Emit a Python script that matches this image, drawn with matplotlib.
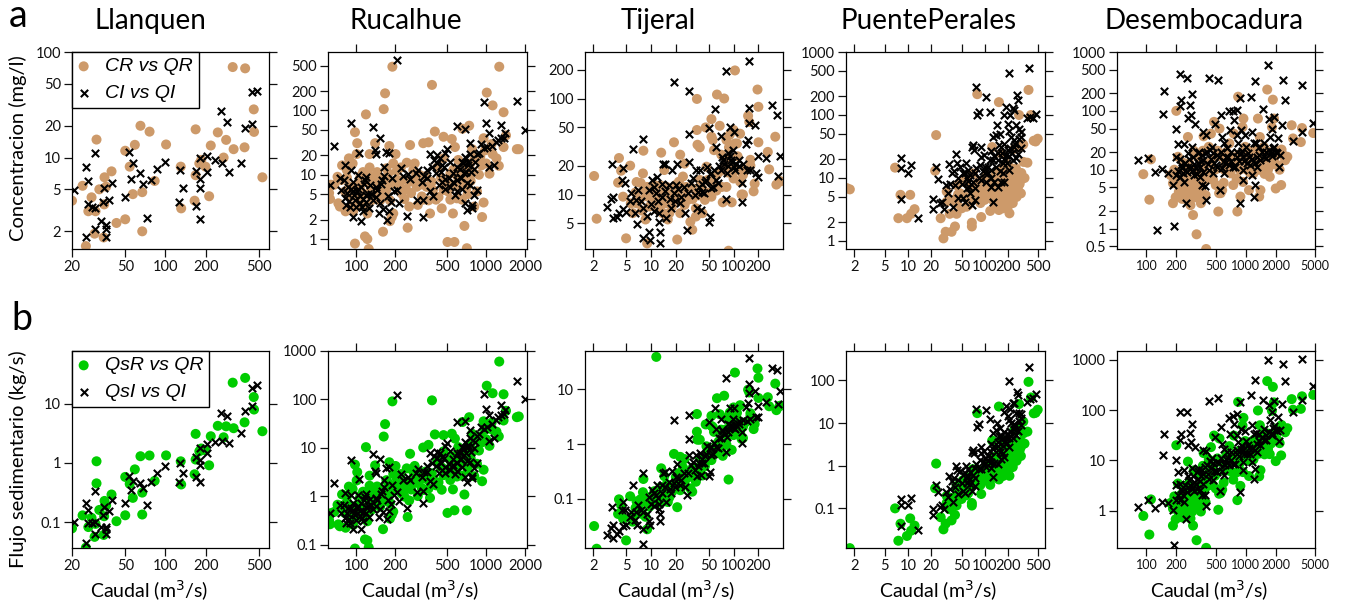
import numpy as np
import matplotlib
matplotlib.use("Agg")
import matplotlib.pyplot as plt
from matplotlib.ticker import FixedLocator, FixedFormatter, NullLocator

# Pares (caudal m3/s, concentracion mg/l) por estacion.
# *_r: muestras R (CR vs QR), *_i: muestras I (CI vs QI)
llanquen_r = [
    (20, 3.9), (24, 5.4), (26.5, 3.1), (28, 4.2), (30, 3.1), (30.5, 14.8), (29.5, 1.9),
    (32, 5.0), (34.5, 1.75), (35, 6.5), (34.8, 3.6), (36, 5.3), (39.5, 7.4), (43, 2.4),
    (50, 11.6), (50, 2.6), (54, 8.2), (57, 4.5), (59, 13.2), (65, 20), (67, 4.7), (67, 2.0),
    (76, 17.6), (83, 6.0), (101, 13.3), (130, 8.2), (131, 3.3), (168, 18.5), (165, 3.9),
    (168, 6.8), (179, 8.8), (185, 9.5), (199, 8.2), (212, 4.3), (218, 13), (246, 17.3),
    (272, 10), (284, 14.7), (318, 72), (323, 12), (390, 12.5), (394, 70), (457, 28.6),
    (459, 17.5), (530, 6.5), (30.5, 35), (25.4, 1.45),
]
llanquen_i = [
    (20.7, 4.9), (25.3, 8.2), (26.5, 6.0), (26.5, 3.6), (25.3, 1.75), (28, 3.4), (29.9, 3.3),
    (29.9, 11.1), (29.9, 2.1), (33, 2.5), (34, 3.8), (34.6, 5.2), (36, 2.3), (36, 2.1),
    (36, 1.75), (38, 4.0), (40, 5.8), (50, 4.2), (53.5, 11.3), (57, 8.8), (55.5, 6.3),
    (64, 7.1), (68, 5.6), (73, 2.7), (78, 6.1), (86, 7.8), (100, 9.0), (126, 3.8),
    (129, 7.7), (135, 5.1), (168, 3.5), (170, 7.4), (181, 9.9), (181, 6.2), (181, 5.1),
    (181, 2.6), (204, 10.3), (204, 7.3), (236, 9.5), (263, 8.8), (258, 27.5), (287, 21.6),
    (297, 7.3), (365, 8.9), (391, 19.2), (445, 20.6), (445, 41.6), (482, 43),
]

rucalhue_r = [
    (190, 480), (167, 185), (163, 105), (119, 87), (98, 46), (102, 31), (383, 250), (1260, 480),
    (1010, 190), (1120, 120), (1360, 94), (1420, 41), (1360, 27), (1720, 25), (1780, 25),
    (1120, 21), (1250, 13.8), (955, 37), (740, 58), (657, 52), (544, 36), (470, 39), (403, 47),
    (360, 32), (328, 31), (260, 29), (282, 15), (245, 15.4), (205, 11.4), (201, 21), (193, 15),
    (177, 10.5), (180, 28), (140, 31), (127, 21), (101, 21), (88, 18), (78, 14), (72, 9.3),
    (64, 7), (63, 4.2), (73, 3.6), (83, 2.7), (95, 2.7), (107, 6.2), (110, 4.6), (122, 2.5),
    (117, 1.1), (122, 1.0), (125, 0.7), (98, 0.85), (135, 8.8), (161, 1.3), (182, 1.9),
    (188, 2.2), (193, 2.5), (249, 1.5), (256, 3.2), (298, 3.4), (292, 6.5), (242, 6.0),
    (228, 8.3), (207, 8.3), (221, 13), (370, 2.5), (411, 4.1), (455, 3.0), (504, 0.9),
    (570, 0.9), (555, 2.5), (680, 1.6), (710, 0.72), (650, 4.1), (810, 3.2), (850, 5.5),
    (930, 2.2), (955, 3.7), (595, 4.3), (710, 6.5), (755, 10), (755, 15), (820, 18), (780, 25),
    (900, 19), (1000, 15), (1060, 10.4), (610, 17), (575, 27), (530, 10.5), (470, 18), (420, 13),
    (382, 7.8), (348, 6.5), (320, 4.6), (306, 10), (275, 11.8), (258, 7.8), (171, 12.6),
    (155, 7), (143, 6.5), (153, 4.0), (131, 4.0), (102, 4.6), (89, 6.5), (82, 5.5), (77, 8.3),
    (85, 11.8), (94, 15), (113, 11), (127, 13), (106, 8.3), (120, 7.8), (95, 6.5), (68, 7.0),
    (62, 5.2), (75, 3.2), (171, 5.8), (182, 4.0), (224, 5.1), (328, 4.1), (530, 4.1),
    (470, 5.8), (595, 6.5), (670, 8.3),
    (85, 9), (90, 4.5), (92, 3.2), (100, 5.5), (105, 3.5), (108, 9.5), (115, 5.0), (118, 3.3),
    (125, 9.8), (130, 6.0), (138, 4.8), (145, 11), (150, 9), (160, 6.0), (165, 4.8), (175, 8.5),
    (185, 6.8), (200, 7.2), (215, 6.5), (235, 4.2), (265, 5.2), (280, 8.5), (310, 7.0),
    (340, 9.5), (360, 4.0), (390, 5.8), (430, 4.5), (450, 9), (480, 7.5), (510, 5.5), (540, 7),
    (560, 12), (600, 9.5), (620, 11), (640, 7.5), (680, 11), (700, 13), (720, 5), (760, 8),
    (790, 11), (880, 10), (920, 14), (980, 24), (1100, 30), (1200, 18),
]
rucalhue_i = [
    (205, 610), (91, 63), (134, 55), (152, 38), (68, 28), (105, 22), (140, 24), (142, 21),
    (170, 23), (180, 22), (163, 13), (190, 9.0), (221, 12.8), (249, 10.2), (287, 10.5),
    (322, 7.8), (348, 9.0), (370, 21), (400, 17), (382, 13), (411, 10.5), (460, 14), (485, 22),
    (500, 25), (595, 57), (690, 52), (960, 134), (990, 64), (1060, 45), (1290, 60), (1720, 142),
    (2000, 50), (1360, 37), (1230, 35), (1400, 44), (1010, 27), (955, 26), (1060, 13),
    (1150, 14), (850, 21), (745, 31), (755, 21), (690, 19), (800, 12.5), (730, 14), (670, 10.5),
    (630, 9.3), (710, 7.4), (650, 6.1), (575, 4.9), (595, 5.5), (530, 6.5), (485, 6.1),
    (455, 7.8), (430, 7), (390, 4.6), (370, 5.5), (328, 4.0), (328, 2.2), (292, 4.1), (245, 2.3),
    (213, 3.7), (208, 5.8), (184, 3.8), (180, 2.7), (173, 2.0), (161, 2.9), (149, 2.5),
    (152, 3.6), (142, 4.5), (131, 5.1), (127, 6.9), (117, 8.3), (110, 6.5), (107, 4.6),
    (111, 3.2), (113, 2.7), (110, 1.9), (95, 2.2), (89, 3.2), (84, 3.4), (82, 4.3), (77, 5.8),
    (80, 8.3), (75, 8.8), (92, 11.8), (82, 14), (63, 7), (94, 5.5), (102, 5.5), (98, 4.1),
    (120, 3.8), (124, 5.1), (142, 6.5), (157, 8.3), (95, 7.8), (87, 6.5), (104, 10), (120, 9.3),
    (755, 6.9), (800, 4.9), (850, 5.8), (780, 3.4), (780, 3.0), (690, 3.6), (710, 2.8),
    (555, 7.8), (595, 13), (650, 16), (630, 12.5), (530, 16), (470, 13), (416, 20), (440, 18),
    (85, 5.2), (88, 3.9), (92, 6.1), (96, 4.8), (100, 3.2), (103, 6.0), (108, 3.6), (112, 4.2),
    (115, 7.2), (120, 4.9), (125, 3.0), (135, 4.0), (145, 5.8), (155, 7.2), (165, 9.5),
    (175, 4.7), (195, 5.5), (230, 9.5), (260, 8.5), (300, 12), (330, 9.5), (350, 12), (420, 15),
    (450, 11), (480, 8.5), (520, 9), (560, 10.5), (600, 8.2), (640, 9), (660, 15), (700, 11),
    (720, 16), (760, 11), (820, 16), (880, 22), (920, 30), (1100, 28), (1200, 32), (1300, 37),
]

tijeral_r = [
    (2.05, 15.6), (2.2, 5.6), (4.1, 24), (4.35, 17.7), (4.0, 13.3), (4.6, 9.5), (5.0, 3.5),
    (5.6, 20), (6.7, 13.5), (7.5, 13.2), (5.7, 8.1), (6.0, 6.4), (7.3, 8.8), (8.1, 28.6),
    (8.4, 10.7), (8.6, 5.5), (9, 3.1), (9.6, 7.5), (11, 12.6), (11.6, 8.5), (13.3, 10),
    (13.3, 27.3), (13.9, 6.4), (14.5, 18), (15.3, 8.1), (16, 5.5), (16.5, 10.3), (17.1, 8.8),
    (19, 35), (20, 12.6), (22.6, 26), (22.6, 6.4), (20.8, 3.4), (24.4, 15.4), (26.6, 12),
    (30, 5.2), (31.6, 4.3), (28, 8.8), (35, 7.2), (36, 99), (36, 47), (36.6, 33), (39, 31),
    (42, 6.4), (46, 50), (49, 14.2), (54, 61), (56, 37), (58, 29), (63, 110), (68, 52),
    (77, 100), (74, 8.3), (82, 37), (88, 31), (95, 8.3), (100, 47), (104, 196), (110, 34),
    (120, 13.6), (125, 10), (130, 10), (140, 18), (150, 66), (155, 57), (160, 23), (175, 10.8),
    (195, 124), (200, 82), (200, 35), (160, 20), (270, 18.3), (260, 27.8), (320, 40),
    (330, 12.7), (360, 13.8), (370, 13.7), (62, 16), (71, 26), (82, 23), (90, 42), (104, 34),
    (120, 43), (112, 25), (54, 40), (47, 19.5), (39, 14.2), (32, 11.6), (25.5, 21), (21.8, 13.6),
    (18.5, 9.6), (16.7, 6.4), (12.8, 7.2), (10.8, 10.7), (8.0, 16.6), (9.2, 9.5), (6.7, 8.1),
    (62, 11), (82, 12), (100, 14.7), (54, 9.5), (45, 8.8), (35, 5.9), (25.5, 7.8), (19.4, 8.8),
    (11.6, 3400), (87, 2.6),
    (6.5, 10.5), (7.8, 6.8), (9, 12), (10, 9.5), (12, 7), (13, 12.5), (14.5, 9), (15.5, 12),
    (18, 7.5), (21, 10.5), (24, 9), (27, 11), (32, 9), (38, 9.8), (42, 11.5), (50, 10.5),
    (58, 13), (66, 17), (72, 12), (78, 20), (85, 17), (95, 20), (110, 18), (130, 16), (180, 13),
]
tijeral_i = [
    (3.4, 21), (2.9, 7.5), (3.3, 9.0), (3.5, 9.5), (3.45, 5.7), (3.9, 5.9), (4.1, 6.4),
    (4.6, 18.8), (4.5, 14.2), (4.8, 13.1), (4.6, 7.1), (5.0, 6.6), (5.5, 8.5), (5.7, 10.3),
    (6.0, 30), (6.5, 8.8), (6.4, 6.4), (6.8, 4.9), (7, 11.2), (8, 38), (8, 7.2), (8.1, 3.5),
    (9.5, 4.1), (9.8, 3.4), (9.6, 11.2), (10.4, 14.2), (10.8, 12.1), (11.4, 10.3), (11.8, 15.4),
    (12.2, 8.5), (12.5, 6.4), (12.7, 4.1), (13, 3.1), (12.5, 5.2), (13.7, 13), (14, 21),
    (14.6, 21), (15.3, 5.7), (16.5, 12.6), (17.6, 7.2), (18, 18), (18.8, 148), (20, 12.6),
    (20.8, 21), (19.7, 8.5), (22.2, 8.1), (26, 6.4), (27.5, 4.3), (28.8, 119), (29, 43),
    (28.8, 22), (30.8, 13.3), (33.8, 10), (35, 18), (36.6, 7.2), (40, 6.9), (42, 13), (44, 10.3),
    (48, 19.5), (51, 49), (50, 5.2), (52, 5.9), (54, 16.6), (56, 12), (60, 78), (62, 31),
    (65, 13.2), (71, 41), (73, 24.8), (76, 21), (81, 9.0), (82, 195), (90, 50), (94, 22.9),
    (100, 45), (98, 29), (100, 19.5), (108, 21), (117, 22.9), (127, 8.3), (125, 13.3), (140, 34),
    (150, 37), (156, 245), (156, 80), (156, 56), (160, 18), (180, 53), (187, 16.6), (200, 25.3),
    (200, 15.4), (250, 23.8), (290, 85), (340, 67), (345, 15.7), (370, 25.3), (86, 27), (90, 25),
    (83, 16.6), (71, 18), (62, 14.2), (54, 11.6), (47, 14.2), (42, 10.7), (39, 18), (37, 10.7),
    (8, 1.9),
    (7.5, 8.5), (9, 6), (10, 8), (11, 6.8), (13.5, 9.5), (15, 11), (17, 9), (19, 10.5),
    (21, 11.5), (23, 9.5), (25, 12), (28, 10.5), (32, 15), (38, 12), (45, 13.5), (52, 16.5),
    (58, 18), (66, 20), (75, 23), (85, 20), (95, 22), (105, 18), (115, 20), (130, 21), (145, 18),
]

puente_r = [
    (1.6, 6.9), (1.75, 6.6), (6.8, 14.6), (8, 5.4), (10.7, 5.4), (7.5, 2.3), (9.7, 2.3),
    (11, 2.7), (12.2, 3.2), (23.3, 48), (22.6, 13), (26.7, 2.3), (29, 1.1), (31, 1.4), (37, 1.4),
    (41, 1.7), (32, 6.1), (37, 4.5), (43, 4.0), (43, 7.7), (48, 5.7), (52, 8.7), (56, 5.0),
    (61, 3.7), (68, 1.95), (68, 1.7), (80, 214), (78, 8.0), (82, 5.0), (88, 4.0), (90, 2.4),
    (96, 7.3), (105, 10.5), (113, 5.7), (118, 3.0), (125, 31), (134, 4.5), (140, 3.7),
    (153, 160), (153, 6.9), (164, 5.0), (172, 3.3), (175, 9.3), (181, 5.7), (190, 7.3),
    (200, 4.5), (206, 8.7), (210, 6.1), (220, 11.8), (232, 5.4), (244, 7.3), (244, 29),
    (255, 14.2), (268, 9.3), (280, 100), (288, 31), (296, 5.7), (318, 34), (360, 17.5),
    (372, 250), (400, 100), (435, 39), (490, 42), (460, 38), (296, 9.3), (255, 9.3), (157, 11.8),
    (140, 7.3), (122, 8.7), (105, 6.9), (90, 7.3), (175, 4.5), (200, 3.5), (153, 3.1), (127, 4.5),
    (232, 4.0), (268, 11.8), (210, 15), (190, 17), (164, 24.5), (140, 11.8), (70, 11.8),
    (64, 6.9), (58, 9.3), (40, 4.5), (43, 2.7), (35, 2.7), (32, 4.2), (58, 3.5), (82, 6.4),
    (210, 2.75), (190, 11), (172, 14.2),
    (110, 5), (120, 6.2), (130, 5.3), (145, 5.5), (160, 4.2), (165, 6.2), (170, 7.8), (185, 4.8),
    (195, 6.0), (200, 8.0), (215, 5.2), (225, 7.0), (235, 9), (250, 6), (260, 5), (270, 7),
    (285, 8), (300, 12), (320, 18), (330, 10), (150, 9.5), (130, 10), (115, 8), (100, 4.5),
    (95, 5.8), (85, 9), (75, 6), (65, 4.5), (50, 3.3), (45, 5.5),
]
puente_i = [
    (8, 21), (8, 14.6), (8.1, 4.7), (9.9, 11.8), (11, 16), (13.7, 2.3), (21, 4.6), (21.5, 3.2),
    (23.2, 15.2), (25, 9.5), (26.5, 4.0), (28, 4.2), (29.5, 3.2), (31.3, 7.8), (33, 5.7),
    (34.5, 16.7), (37, 11.8), (39, 3.5), (41, 7.8), (42, 23.7), (44, 17.6), (45, 4.8), (48, 15.2),
    (52, 11.8), (52, 4.8), (55, 4.1), (57, 17.5), (58, 6.9), (64, 5.7), (68, 3.7), (69, 31),
    (70, 34), (72, 28), (74, 4.5), (78, 275), (80, 100), (85, 112), (86, 16), (90, 21.7), (90, 31),
    (97, 23), (105, 190), (116, 110), (118, 19), (122, 27), (128, 45), (130, 4.1), (140, 48),
    (143, 70), (153, 33), (157, 50), (164, 31), (172, 17), (181, 100), (190, 135), (200, 73),
    (206, 470), (210, 55), (215, 100), (222, 45), (232, 128), (240, 31), (244, 121), (252, 20.5),
    (255, 69), (260, 205), (268, 174), (280, 41), (296, 54), (298, 29.5), (360, 89), (372, 560),
    (393, 94), (420, 90), (470, 104), (150, 24.5), (134, 22), (122, 13.4), (111, 15), (100, 11.8),
    (90, 9.3), (105, 8.7), (78, 14.2), (74, 11.8), (70, 8.7), (63, 7.3), (58, 10), (61, 13.4),
    (172, 11.8), (164, 8.7), (190, 23), (200, 27.8), (181, 35), (232, 19), (210, 13.4),
    (181, 8.7), (150, 7.3), (134, 8.7), (122, 7.3),
    (60, 9), (65, 11), (75, 7), (85, 10), (95, 13), (100, 15), (110, 12), (120, 10), (130, 19),
    (140, 15), (150, 19), (160, 13), (170, 25), (180, 20), (195, 17), (205, 22), (215, 30),
    (225, 25), (240, 40), (250, 35), (270, 24), (280, 60), (300, 45), (55, 12), (50, 8), (45, 10),
    (35, 8), (40, 13),
]

desemb_r = [
    (93, 8.4), (107, 3.1), (111, 15), (200, 100), (175, 8.1), (185, 5.9), (197, 3.4), (212, 4.2),
    (238, 4.8), (245, 3.6), (262, 36), (262, 5.9), (270, 4.0), (278, 3.4), (290, 3.3), (295, 1.7),
    (295, 10), (300, 4.5), (310, 5.5), (320, 0.8), (354, 2.7), (360, 4.2), (370, 21), (377, 37),
    (385, 6.7), (395, 3.7), (400, 0.45), (425, 24.5), (447, 41), (480, 65), (492, 10), (500, 5.5),
    (540, 4), (545, 50), (560, 4), (530, 1.95), (580, 4.5), (610, 10), (625, 13), (685, 28),
    (720, 16.6), (760, 41), (810, 7.1), (825, 1.95), (840, 174), (870, 10), (885, 3.5), (930, 53),
    (950, 74), (990, 24.5), (1030, 10), (1080, 4.5), (1120, 16.6), (1210, 21), (1300, 12.8),
    (1330, 74), (1370, 3.5), (1390, 36), (1410, 4.5), (1520, 24.5), (1610, 15.5), (1650, 230),
    (1750, 7.6), (1840, 53), (1880, 155), (1930, 74), (2010, 4.8), (2200, 10), (2280, 5.5),
    (2390, 17.7), (2500, 14.5), (2630, 16.6), (2910, 57), (3000, 34), (3600, 29.5), (3700, 51),
    (4800, 42), (191, 10), (208, 16.6), (225, 9.3), (235, 13.1), (240, 8.1), (270, 13), (300, 21),
    (330, 16.6), (345, 7.6), (400, 8.7), (430, 13), (470, 6.7), (520, 21), (640, 20), (700, 8.7),
    (750, 5.5), (900, 15.5), (940, 6.2), (1160, 12), (1200, 8.7), (1240, 21), (1470, 11.2),
    (1680, 10), (1890, 13), (2050, 21), (212, 7.6), (230, 5.5), (245, 9.3), (278, 2.5), (185, 2.7),
    (205, 6), (215, 3.8), (220, 5.2), (228, 3.2), (235, 6.5), (250, 4.5), (255, 5.5), (260, 3),
    (265, 7), (275, 5), (285, 6.2), (290, 4), (305, 3.8), (315, 7), (325, 4.8), (335, 6),
    (340, 3.2), (350, 9), (380, 12), (420, 7.5), (460, 15), (550, 17), (600, 6), (650, 12),
    (800, 12), (850, 18), (1000, 14), (1050, 20), (1100, 9), (1250, 16), (1350, 10), (1450, 18),
    (1550, 8.5), (1700, 20), (1800, 12), (1950, 16), (2100, 12), (2300, 22),
]
desemb_i = [
    (82, 14.4), (103, 16), (123, 9.0), (145, 10.3), (150, 220), (146, 88), (129, 0.96), (190, 1.1),
    (185, 5.6), (200, 50), (197, 8.1), (216, 430), (225, 150), (216, 120), (210, 27.3),
    (216, 15.5), (225, 12), (235, 8.7), (240, 27), (240, 6.3), (248, 2.7), (255, 360), (265, 77),
    (275, 126), (280, 84), (285, 190), (290, 24.5), (295, 16.6), (310, 60), (315, 10.5), (330, 13),
    (345, 7.6), (360, 17.7), (365, 5.5), (370, 44), (385, 5.3), (400, 3.1), (400, 39), (410, 20),
    (425, 360), (430, 10), (447, 15.5), (460, 24.5), (470, 8.7), (492, 60), (520, 11.2), (530, 330),
    (540, 16.6), (550, 4.5), (560, 84), (575, 10.5), (580, 36), (600, 8.7), (610, 28), (625, 13),
    (650, 23), (665, 16.6), (685, 100), (700, 47), (720, 20), (740, 11.2), (750, 100), (760, 70),
    (810, 39), (810, 105), (840, 28), (870, 165), (885, 2.7), (890, 19), (900, 47), (930, 10),
    (950, 6.7), (990, 39), (1010, 24.5), (1030, 13), (1080, 16.6), (1120, 175), (1150, 44),
    (1160, 8.1), (1200, 28), (1200, 3.5), (1230, 5.5), (1250, 320), (1270, 28), (1300, 16.6),
    (1370, 24.5), (1410, 14.6), (1480, 108), (1520, 28), (1600, 20), (1670, 600), (1700, 74),
    (1750, 36), (1790, 19), (1840, 50), (1880, 23), (1950, 79), (2050, 19), (2130, 34),
    (2180, 11.2), (2340, 57), (2400, 340), (2500, 150), (3000, 31), (3700, 280), (3700, 44),
    (4800, 62), (165, 8.7), (197, 16.6), (262, 19), (280, 11.2), (300, 8.1), (330, 19), (370, 14.6),
    (465, 19), (500, 12), (640, 16.6), (810, 16.6), (950, 16.6), (1300, 11.2), (1520, 16.6),
    (1840, 19), (1950, 24.5),
    (210, 9.5), (220, 7.5), (230, 10.5), (245, 13), (255, 9), (265, 11), (270, 15), (285, 9.5),
    (300, 12.5), (320, 8.5), (335, 20), (345, 11), (355, 14), (375, 9), (390, 19), (420, 12.5),
    (440, 22), (480, 13), (520, 18), (560, 20), (600, 14), (680, 12), (720, 14), (780, 11),
    (820, 20), (860, 14), (920, 21), (970, 14), (1050, 19), (1100, 12), (1150, 15), (1250, 13),
    (1350, 18), (1450, 20), (1600, 16), (1700, 22), (1850, 17), (2000, 20), (2200, 18),
]

station_names = ["Llanquen", "Rucalhue", "Tijeral", "PuentePerales", "Desembocadura"]
station_r = [llanquen_r, rucalhue_r, tijeral_r, puente_r, desemb_r]
station_i = [llanquen_i, rucalhue_i, tijeral_i, puente_i, desemb_i]

x_ticks = [
    [20, 50, 100, 200, 500],
    [100, 200, 500, 1000, 2000],
    [2, 5, 10, 20, 50, 100, 200],
    [2, 5, 10, 20, 50, 100, 200, 500],
    [100, 200, 500, 1000, 2000, 5000],
]
conc_ticks = [
    [2, 5, 10, 20, 50, 100],
    [1, 2, 5, 10, 20, 50, 100, 200, 500],
    [5, 10, 20, 50, 100, 200],
    [1, 2, 5, 10, 20, 50, 100, 200, 500, 1000],
    [0.5, 1, 2, 5, 10, 20, 50, 100, 200, 500, 1000],
]
flux_ticks = [
    [0.1, 1, 10],
    [0.1, 1, 10, 100, 1000],
    [0.1, 1, 10],
    [0.1, 1, 10, 100],
    [1, 10, 100, 1000],
]

# limites de ejes (escala log)
x_lims = [(20, 594), (60.8, 2059), (1.59, 397), (1.56, 610), (50.5, 5000)]
conc_lims = [(1.36, 100), (0.70, 813), (2.71, 305), (0.746, 1000), (0.45, 1000)]
flux_lims = [(0.0363, 78.7), (0.0855, 1000), (0.0127, 50.5), (0.01164, 493), (0.179, 1510)]

W, H = 1350, 605
lefts = [72, 328, 585, 846, 1117]
rights = [269, 527, 783, 1045, 1315]
title_x = [150, 406, 658, 929, 1204]
xlabel_x = [149, 420, 676, 938, 1209]
# etiquetas del eje x muy juntas en la ultima estacion
xtick_size = [10.5, 10.5, 10.5, 10.5, 9.0]

COL_R = "#CD9A6A"
COL_QS = "#00CC00"
FONT = "Lato"

plt.rcParams["font.family"] = [FONT, "DejaVu Sans"]


def fmt(v):
    return f"{v:g}"


def style_axis(ax, xt, yt, xlim, ylim, top_ticks=True, xsize=10.5):
    ax.set_xscale("log")
    ax.set_yscale("log")
    ax.set_xlim(*xlim)
    ax.set_ylim(*ylim)
    ax.xaxis.set_major_locator(FixedLocator(xt))
    ax.xaxis.set_major_formatter(FixedFormatter([fmt(v) for v in xt]))
    ax.yaxis.set_major_locator(FixedLocator(yt))
    ax.yaxis.set_major_formatter(FixedFormatter([fmt(v) for v in yt]))
    ax.xaxis.set_minor_locator(NullLocator())
    ax.yaxis.set_minor_locator(NullLocator())
    ax.tick_params(which="major", direction="out", length=6, width=0.9,
                   top=top_ticks, right=True, labelsize=10.5, pad=2, colors="#111111")
    ax.tick_params(axis="x", labelsize=xsize)
    for sp in ax.spines.values():
        sp.set_linewidth(0.9)


fig = plt.figure(figsize=(W / 100, H / 100), dpi=100)

for k, name in enumerate(station_names):
    r = np.array(station_r[k], dtype=float)
    i = np.array(station_i[k], dtype=float)
    # flujo sedimentario: C (mg/l) * Q (m3/s) = g/s -> kg/s
    qs_r = r[:, 0] * r[:, 1] / 1000.0
    qs_i = i[:, 0] * i[:, 1] / 1000.0

    l = lefts[k] / W
    w = (rights[k] - lefts[k]) / W
    ax_a = fig.add_axes([l, 1 - 249 / H, w, 197 / H])
    ax_b = fig.add_axes([l, 1 - 548 / H, w, 197 / H])

    hr = ax_a.scatter(r[:, 0], r[:, 1], s=52, color=COL_R, edgecolors="none", zorder=2)
    hi = ax_a.scatter(i[:, 0], i[:, 1], s=28, marker="x", color="black", linewidths=1.5, zorder=3)
    gr = ax_b.scatter(r[:, 0], qs_r, s=52, color=COL_QS, edgecolors="none", zorder=2)
    gi = ax_b.scatter(i[:, 0], qs_i, s=28, marker="x", color="black", linewidths=1.5, zorder=3)

    style_axis(ax_a, x_ticks[k], conc_ticks[k], x_lims[k], conc_lims[k],
               top_ticks=(k > 0), xsize=xtick_size[k])
    style_axis(ax_b, x_ticks[k], flux_ticks[k], x_lims[k], flux_lims[k],
               top_ticks=(k > 0), xsize=xtick_size[k])

    fig.text(title_x[k] / W, 1 - 29 / H, name, fontsize=20, ha="center", va="baseline")
    fig.text(xlabel_x[k] / W, 1 - 591 / H, r"Caudal (m$^3$/s)", fontsize=14,
             ha="center", va="center")

    if k == 0:
        leg_font = {"family": "Liberation Sans", "style": "italic", "size": 14}
        for ax, h1, h2, labels in [
            (ax_a, hr, hi, ["CR vs QR", "CI vs QI"]),
            (ax_b, gr, gi, ["QsR vs QR", "QsI vs QI"]),
        ]:
            leg = ax.legend([h1, h2], labels, loc="upper left", bbox_to_anchor=(0, 1),
                            borderaxespad=0, fancybox=False, edgecolor="black", framealpha=1,
                            prop=leg_font, handlelength=0.6, handletextpad=0.8,
                            borderpad=0.3, labelspacing=0.45)
            leg.get_frame().set_linewidth(1.0)
            leg.set_zorder(5)

fig.text(9 / W, 1 - 27 / H, "a", fontsize=27, ha="left", va="baseline")
fig.text(11 / W, 1 - 330 / H, "b", fontsize=27, ha="left", va="baseline")
fig.text(18 / W, 1 - 148 / H, "Concentracion (mg/l)", fontsize=14.5, rotation=90,
         ha="center", va="center")
fig.text(18 / W, 1 - 459 / H, "Flujo sedimentario (kg/s)", fontsize=14.5, rotation=90,
         ha="center", va="center")

fig.savefig("out.png", dpi=100)
